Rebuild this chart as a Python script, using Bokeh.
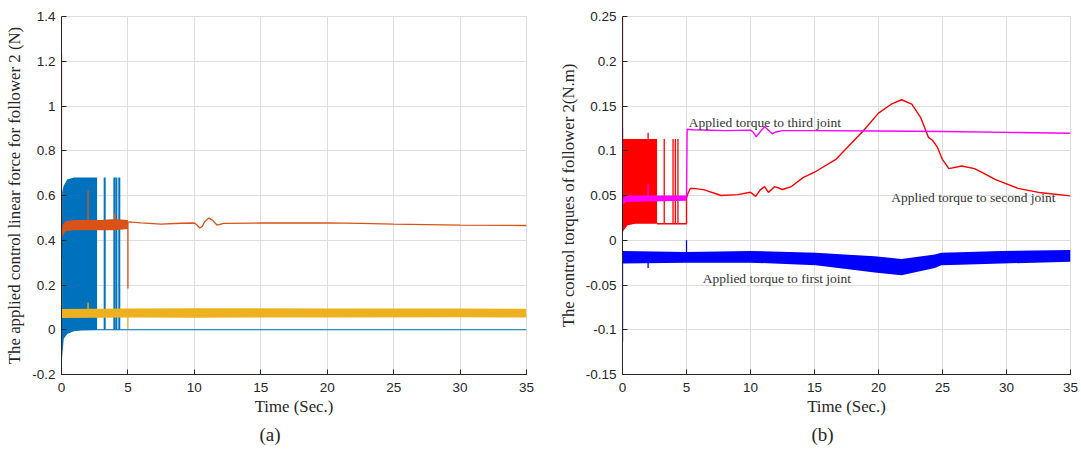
from bokeh.plotting import figure
from bokeh.layouts import row
from bokeh.models import Label, Range1d, FixedTicker, Title
from bokeh.embed import file_html
from bokeh.resources import INLINE

# ---------------- data: panel (a) ----------------
x_ticks = [0, 5, 10, 15, 20, 25, 30, 35]
x_tick_labels = ["0", "5", "10", "15", "20", "25", "30", "35"]
ya_ticks = [-0.2, 0, 0.2, 0.4, 0.6, 0.8, 1.0, 1.2, 1.4]
ya_tick_labels = ["-0.2", "0", "0.2", "0.4", "0.6", "0.8", "1", "1.2", "1.4"]

# blue (first input): fast switching band then zero
a_blue_band_t = [0, 0.05, 0.17, 0.43, 0.93, 1.5, 2.68]
a_blue_band_hi = [0.50, 0.616, 0.645, 0.671, 0.681, 0.681, 0.681]
a_blue_band_lo = [-0.20, -0.12, -0.04, -0.019, -0.007, -0.003, -0.002]
a_blue_spike_t = [3.25, 3.98, 4.13, 4.35]
a_blue_spike_hi = [0.681, 0.681, 0.681, 0.681]
a_blue_line_t = [2.68, 35]
a_blue_line_y = [0, 0]

# orange (second input)
a_or_band_t = [0, 0.1, 0.3, 1, 2, 3, 4, 5]
a_or_band_hi = [0.43, 0.47, 0.485, 0.49, 0.49, 0.49, 0.495, 0.49]
a_or_band_lo = [0.405, 0.42, 0.44, 0.445, 0.445, 0.445, 0.445, 0.45]
a_or_spike_t = [0, 2.0, 4.0, 5.0]
a_or_spike_lo = [0.42, 0.47, 0.47, 0.184]
a_or_spike_hi = [1.234, 0.623, 0.52, 0.48]
a_or_line_t = [5.0, 5.1, 6, 7.5, 9, 10.0, 10.2, 10.4, 10.6, 10.8, 11.1, 11.4, 11.7, 12.0,
               12.2, 15, 20, 22.5, 25, 30, 35]
a_or_line_y = [0.48, 0.482, 0.478, 0.472, 0.476, 0.477, 0.468, 0.455, 0.462, 0.485, 0.499,
               0.488, 0.468, 0.472, 0.475, 0.477, 0.478, 0.475, 0.472, 0.468, 0.466]

# yellow (third input)
a_ye_band_t = [0, 5, 10, 20, 30, 35]
a_ye_band_hi = [0.093, 0.095, 0.096, 0.095, 0.095, 0.094]
a_ye_band_lo = [0.052, 0.055, 0.054, 0.055, 0.056, 0.055]
a_ye_spike_t = [0, 2.0, 5.0]
a_ye_spike_lo = [0.06, 0.09, 0.005]
a_ye_spike_hi = [0.319, 0.122, 0.06]

# ---------------- data: panel (b) ----------------
yb_ticks = [-0.15, -0.1, -0.05, 0, 0.05, 0.1, 0.15, 0.2, 0.25]
yb_tick_labels = ["-0.15", "-0.1", "-0.05", "0", "0.05", "0.1", "0.15", "0.2", "0.25"]

# red: second joint
b_red_band_t = [0, 0.2, 0.4, 1.0, 2.7]
b_red_band_hi = [0.113, 0.113, 0.113, 0.113, 0.113]
b_red_band_lo = [0.0093, 0.013, 0.0167, 0.0185, 0.0185]
b_red_spike_t = [0, 2.0, 3.26, 3.95, 4.13, 4.33]
b_red_spike_lo = [0.0093, 0.11, 0.0185, 0.0185, 0.0185, 0.0185]
b_red_spike_hi = [0.25, 0.12, 0.113, 0.113, 0.113, 0.113]
b_red_line_t = [2.7, 5.0, 5.0, 5.1, 5.3, 5.6, 6.4, 7.7, 9.0, 10.0, 10.4, 10.75, 11.1, 11.4,
                11.9, 12.5, 13.2, 14.1, 15.0, 16.7, 18.8, 20.0, 21.0, 21.8, 22.6, 23.3,
                23.9, 24.2, 24.6, 25.0, 25.5, 26.5, 27.5, 28.2, 29.1, 30.9, 32.7, 35]
b_red_line_y = [0.0185, 0.0185, 0.047, 0.052, 0.0578, 0.058, 0.0563, 0.050, 0.051, 0.0537,
                0.049, 0.056, 0.060, 0.0535, 0.060, 0.0567, 0.060, 0.070, 0.076, 0.0907,
                0.122, 0.142, 0.152, 0.157, 0.152, 0.137, 0.115, 0.112, 0.104, 0.090,
                0.080, 0.083, 0.080, 0.075, 0.068, 0.058, 0.053, 0.0496]

# magenta: third joint
b_mag_band_t = [0, 0.3, 1, 5]
b_mag_band_hi = [0.046, 0.05, 0.05, 0.05]
b_mag_band_lo = [0.040, 0.043, 0.043, 0.044]
b_mag_spike_t = [0, 2.0]
b_mag_spike_lo = [0.04, 0.048]
b_mag_spike_hi = [0.125, 0.063]
b_mag_line_t = [5.0, 5.05, 5.5, 8, 10, 10.2, 10.45, 10.8, 11.1, 11.4, 11.7, 12.0, 12.5,
                15, 20, 25, 30, 35]
b_mag_line_y = [0.048, 0.124, 0.1235, 0.1225, 0.123, 0.121, 0.1156, 0.122, 0.127, 0.123,
                0.119, 0.121, 0.1225, 0.1225, 0.122, 0.1215, 0.1205, 0.1195]

# blue: first joint
b_blue_band_t = [0, 5, 10, 15.1, 19.7, 21.8, 24.4, 24.9, 27, 29.6, 35]
b_blue_band_hi = [-0.012, -0.013, -0.012, -0.014, -0.018, -0.021, -0.016, -0.014, -0.013,
                  -0.012, -0.011]
b_blue_band_lo = [-0.026, -0.025, -0.025, -0.028, -0.036, -0.039, -0.031, -0.028, -0.027,
                  -0.026, -0.024]
b_blue_spike_t = [0, 2.0, 5.0]
b_blue_spike_lo = [-0.113, -0.031, -0.015]
b_blue_spike_hi = [-0.012, -0.02, 0.0]

SERIF = "Liberation Serif"
SANS = "Liberation Sans"
GRID = "#dedede"
AX = "#262626"


def style(p, yticks, ylabels, ylabel):
    p.xaxis.ticker = FixedTicker(ticks=x_ticks)
    p.yaxis.ticker = FixedTicker(ticks=yticks)
    p.xaxis.major_label_overrides = dict(zip(x_ticks, x_tick_labels))
    p.yaxis.major_label_overrides = dict(zip(yticks, ylabels))
    for ax in (p.xaxis[0], p.yaxis[0]):
        ax.major_tick_in = 5
        ax.major_tick_out = 0
        ax.minor_tick_line_color = None
        ax.axis_line_color = AX
        ax.major_tick_line_color = AX
        ax.major_label_text_font = SANS
        ax.major_label_text_font_size = "13.5px"
        ax.major_label_text_color = AX
        ax.axis_label_text_font = SERIF
        ax.axis_label_text_font_style = "normal"
        ax.axis_label_text_font_size = "16.8px"
        ax.axis_label_text_color = AX
    p.xaxis.major_label_standoff = 8
    p.yaxis.major_label_standoff = 6
    p.xaxis.axis_label = "Time (Sec.)"
    p.xaxis.axis_label_standoff = 2
    p.yaxis.axis_label = ylabel
    p.yaxis.axis_label_standoff = 5
    p.grid.grid_line_color = GRID
    p.outline_line_color = GRID
    p.background_fill_color = "white"
    p.border_fill_color = "white"


def caption(p, text, offset):
    p.add_layout(Title(text=text, align="left", offset=offset, standoff=6,
                       text_font=SERIF, text_font_size="19px", text_font_style="normal",
                       text_color=AX), "below")


# ---------------- panel (a) ----------------
p1 = figure(width=555, height=459, x_range=Range1d(0, 35), y_range=Range1d(-0.2, 1.4),
            output_backend="svg", toolbar_location=None,
            min_border_left=61, min_border_right=29, min_border_top=7, min_border_bottom=85)
style(p1, ya_ticks, ya_tick_labels, "The applied control linear force for follower 2 (N)")

C_BLUE, C_OR, C_YE = "#0072BD", "#D95319", "#EDB120"
p1.varea(x=a_blue_band_t, y1=a_blue_band_lo, y2=a_blue_band_hi, color=C_BLUE)
p1.segment(x0=a_blue_spike_t, y0=[0] * len(a_blue_spike_t), x1=a_blue_spike_t,
           y1=a_blue_spike_hi, line_color=C_BLUE, line_width=2)
p1.line(a_blue_line_t, a_blue_line_y, line_color=C_BLUE, line_width=1.2)

p1.varea(x=a_or_band_t, y1=a_or_band_lo, y2=a_or_band_hi, color=C_OR)
p1.segment(x0=a_or_spike_t, y0=a_or_spike_lo, x1=a_or_spike_t, y1=a_or_spike_hi,
           line_color=C_OR, line_width=1.3)
p1.line(a_or_line_t, a_or_line_y, line_color=C_OR, line_width=1.3)

p1.varea(x=a_ye_band_t, y1=a_ye_band_lo, y2=a_ye_band_hi, color=C_YE)
p1.segment(x0=a_ye_spike_t, y0=a_ye_spike_lo, x1=a_ye_spike_t, y1=a_ye_spike_hi,
           line_color=C_YE, line_width=1.3)

caption(p1, "(a)", 198)

# ---------------- panel (b) ----------------
p2 = figure(width=526, height=459, x_range=Range1d(0, 35), y_range=Range1d(-0.15, 0.25),
            output_backend="svg", toolbar_location=None,
            min_border_left=62, min_border_right=11, min_border_top=16, min_border_bottom=85)
style(p2, yb_ticks, yb_tick_labels, "The control torques of follower 2(N.m)")

R, M, B = "#FF0000", "#FF00FF", "#0000FF"
p2.varea(x=b_red_band_t, y1=b_red_band_lo, y2=b_red_band_hi, color=R)
p2.segment(x0=b_red_spike_t, y0=b_red_spike_lo, x1=b_red_spike_t, y1=b_red_spike_hi,
           line_color=R, line_width=1.3)
p2.line(b_red_line_t, b_red_line_y, line_color=R, line_width=1.4)

p2.varea(x=b_mag_band_t, y1=b_mag_band_lo, y2=b_mag_band_hi, color=M)
p2.segment(x0=b_mag_spike_t, y0=b_mag_spike_lo, x1=b_mag_spike_t, y1=b_mag_spike_hi,
           line_color=M, line_width=1.3)
p2.line(b_mag_line_t, b_mag_line_y, line_color=M, line_width=1.4)

p2.varea(x=b_blue_band_t, y1=b_blue_band_lo, y2=b_blue_band_hi, color=B)
p2.segment(x0=b_blue_spike_t, y0=b_blue_spike_lo, x1=b_blue_spike_t, y1=b_blue_spike_hi,
           line_color=B, line_width=1.3)

for tx, ty, txt in [(5.18, 0.1316, "Applied torque to third joint"),
                    (21.0, 0.0478, "Applied torque to second joint"),
                    (6.26, -0.0427, "Applied torque to first joint")]:
    p2.add_layout(Label(x=tx, y=ty, text=txt, text_align="left", text_baseline="middle",
                        text_font=SERIF, text_font_size="13.5px", text_color="#333333"))

caption(p2, "(b)", 189)

layout = row(p1, p2)
open("out.html", "w").write(file_html(layout, INLINE))
